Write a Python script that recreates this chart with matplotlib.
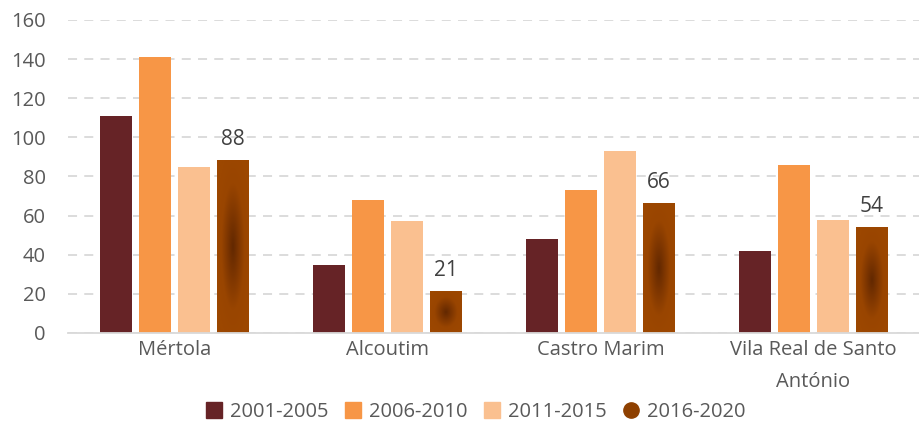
import numpy as np
import matplotlib.pyplot as plt
from matplotlib.lines import Line2D
from matplotlib.colors import LinearSegmentedColormap

plt.rcParams['font.family'] = ['Open Sans', 'DejaVu Sans']

concelhos = ['Mértola', 'Alcoutim', 'Castro Marim', 'Vila Real de Santo\nAntónio']
periodos = ['2001-2005', '2006-2010', '2011-2015', '2016-2020']
v_2001_2005 = [111, 35, 48, 42]
v_2006_2010 = [141, 68, 73, 86]
v_2011_2015 = [85, 57, 93, 58]
v_2016_2020 = [88, 21, 66, 54]
series = [v_2001_2005, v_2006_2010, v_2011_2015, v_2016_2020]

cores = ['#662326', '#F79646', '#FAC090', '#8E4000']
grad = LinearSegmentedColormap.from_list('castanho', ['#622800', '#7E3600', '#994500', '#9C4700'])

fig = plt.figure(figsize=(9.2, 4.25), dpi=100)
ax = fig.add_axes([0.074, 0.2165, 0.926, 0.7365])

x = np.arange(len(concelhos))
larg = 0.148
passo = 0.183

for i, vals in enumerate(series):
    pos = x + (i - 1.5) * passo
    if i < 3:
        ax.bar(pos, vals, width=larg, color=cores[i], zorder=2)
    else:
        barras = ax.bar(pos, vals, width=larg, color='none', zorder=2)
        # gradiente radial dentro de cada barra
        gx, gy = np.meshgrid(np.linspace(-1, 1, 60), np.linspace(-1, 1, 200))
        r = np.clip(np.sqrt(gx ** 2 + gy ** 2) / 1.1, 0, 1)
        for b, v in zip(barras, vals):
            x0, w, h = b.get_x(), b.get_width(), b.get_height()
            ax.imshow(r, cmap=grad, vmin=0, vmax=1, aspect='auto',
                      extent=(x0, x0 + w, 0, h), zorder=2, interpolation='bilinear')
            ax.text(x0 + w / 2, h + 5.5, str(v), ha='center', va='bottom',
                    fontsize=15, color='#404040')

ax.set_xlim(-0.5, 3.5)
ax.set_ylim(0, 160)
ax.set_yticks(range(0, 161, 20))
ax.set_xticks(x)
ax.set_xticklabels(concelhos, fontsize=14.5, color='#595959', linespacing=1.8)
ax.tick_params(axis='y', length=0, pad=16, labelsize=14.5, labelcolor='#595959')
ax.tick_params(axis='x', length=0, pad=5)
ax.yaxis.grid(True, color='#D9D9D9', linestyle=(0, (5, 4)), linewidth=1.3, zorder=0)
ax.set_axisbelow(True)
for s in ['top', 'right', 'left']:
    ax.spines[s].set_visible(False)
ax.spines['bottom'].set_color('#D9D9D9')
ax.spines['bottom'].set_linewidth(1.3)

marcas = ['s', 's', 's', 'o']
handles = [Line2D([], [], marker=marcas[i], linestyle='none', markersize=11,
                  markerfacecolor=cores[i], markeredgecolor=cores[i]) for i in range(4)]
fig.legend(handles, periodos, loc='center', bbox_to_anchor=(0.516, 0.03), ncol=4,
           frameon=False, fontsize=14.5, labelcolor='#595959',
           handletextpad=0.3, columnspacing=0.7, handlelength=1.0)

fig.savefig('out.png', dpi=100)
